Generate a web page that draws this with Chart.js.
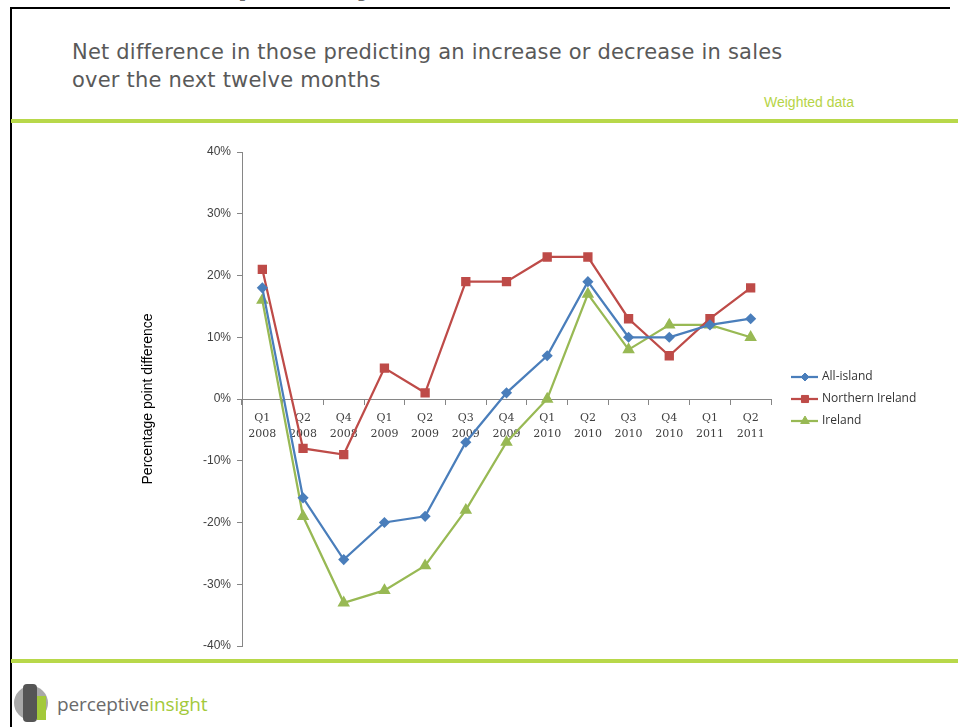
<!DOCTYPE html>
<html>
<head>
<meta charset="utf-8">
<script src="https://cdn.jsdelivr.net/npm/chart.js@4.4.0/dist/chart.umd.min.js"></script>
<style>
    html, body { margin: 0; padding: 0; background: #fff; }
    body { width: 958px; height: 727px; position: relative; overflow: hidden; font-family: "DejaVu Sans", sans-serif; }
    #cabecera { position: absolute; left: 30px; top: -31px; font: bold 28px "DejaVu Sans", sans-serif; color: #6b6b6b; white-space: nowrap; }
    #marco { position: absolute; left: 10px; top: 7px; width: 938px; height: 730px; border-left: 2px solid #000; border-top: 2px solid #000; }
    #titulo { position: absolute; left: 72px; top: 38px; font-size: 21px; letter-spacing: 0.2px; line-height: 28px; color: #595959; }
    #pesado { position: absolute; left: 764px; top: 94px; font: 14px "Liberation Sans", sans-serif; color: #b6d447; }
    .verde { position: absolute; left: 11px; width: 947px; height: 4px; background: #b8d84a; }
    #grafico { position: absolute; left: 120px; top: 130px; width: 838px; height: 530px; }
    #logo { position: absolute; left: 14px; top: 684px; width: 200px; height: 40px; }
    #logo .c1 { position: absolute; left: 0; top: 2px; width: 34px; height: 34px; border-radius: 50%; background: #a8a8a8; }
    #logo .c2 { position: absolute; left: 9px; top: 0; width: 14px; height: 38px; border-radius: 4px; background: #555; }
    #logo .c3 { position: absolute; left: 23px; top: 12px; width: 9px; height: 24px; background: #a3c93a; }
    #logo .txt { position: absolute; left: 43px; top: 7px; font: 19px "Open Sans", sans-serif; color: #6a6a6a; letter-spacing: -0.1px; }
    #logo .txt span { color: #a3c93a; }
</style>
</head>
<body>
<div id="cabecera">3. Outlook – quarterly sales trends</div>
<div id="marco"></div>
<div id="titulo">Net difference in those predicting an increase or decrease in sales<br>over the next twelve months</div>
<div id="pesado">Weighted data</div>
<div class="verde" style="top:119px"></div>
<div class="verde" style="top:659px"></div>
<div id="grafico"><canvas id="lineas"></canvas></div>
<div id="logo"><div class="c1"></div><div class="c2"></div><div class="c3"></div><div class="txt">perceptive<span>insight</span></div></div>
<script>
'use strict';

// Datos
const trimestres = [
    ['Q1', '2008'], ['Q2', '2008'], ['Q4', '2008'], ['Q1', '2009'], ['Q2', '2009'],
    ['Q3', '2009'], ['Q4', '2009'], ['Q1', '2010'], ['Q2', '2010'], ['Q3', '2010'],
    ['Q4', '2010'], ['Q1', '2011'], ['Q2', '2011']
];
const allIsland = [18, -16, -26, -20, -19, -7, 1, 7, 19, 10, 10, 12, 13];
const northernIreland = [21, -8, -9, 5, 1, 19, 19, 23, 23, 13, 7, 13, 18];
const ireland = [16, -19, -33, -31, -27, -18, -7, 0, 17, 8, 12, 12, 10];
const ejeY = [-40, -30, -20, -10, 0, 10, 20, 30, 40];

const gris = '#868686';

// leyenda dibujada a la derecha del grafico
const leyenda = {
    id: 'leyenda',
    afterDraw: (chart) => {
        let ctx = chart.ctx;
        let area = chart.chartArea;
        let x = area.right + 20;
        let yCentro = (area.top + area.bottom) / 2;
        let sets = chart.data.datasets;
        ctx.save();
        ctx.font = '12px "Open Sans", sans-serif';
        ctx.textBaseline = 'middle';
        for (let i = 0; i < sets.length; i++) {
            let y = yCentro + (i - 1) * 22;
            ctx.strokeStyle = sets[i].borderColor;
            ctx.fillStyle = sets[i].borderColor;
            ctx.lineWidth = 2.25;
            ctx.beginPath();
            ctx.moveTo(x, y);
            ctx.lineTo(x + 27, y);
            ctx.stroke();
            ctx.lineWidth = 1;
            Chart.helpers.drawPoint(ctx, {
                pointStyle: sets[i].pointStyle,
                radius: sets[i].pointRadius,
                borderWidth: 1
            }, x + 14, y);
            ctx.fillStyle = '#333333';
            ctx.fillText(sets[i].label, x + 31, y);
        }
        ctx.restore();
    }
};

let serie = (nombre, valores, color, forma, radio) => {
    return {
        label: nombre,
        data: valores,
        borderColor: color,
        backgroundColor: color,
        pointBackgroundColor: color,
        pointBorderColor: color,
        pointStyle: forma,
        pointRadius: radio,
        borderWidth: 2.25,
        tension: 0
    };
};

new Chart(document.getElementById('lineas'), {
    type: 'line',
    data: {
        labels: trimestres,
        datasets: [
            serie('All-island', allIsland, '#4a7ebb', 'rectRot', 4),
            serie('Northern Ireland', northernIreland, '#be4b48', 'rect', 5),
            serie('Ireland', ireland, '#98b954', 'triangle', 5)
        ]
    },
    options: {
        responsive: true,
        maintainAspectRatio: false,
        animation: false,
        layout: { padding: { top: 22, right: 187, bottom: 14, left: 0 } },
        plugins: { legend: { display: false }, tooltip: { enabled: false } },
        scales: {
            x: {
                position: { y: 0 },
                offset: true,
                grid: { offset: true, drawOnChartArea: false, tickLength: 5, color: gris },
                border: { color: gris, width: 1 },
                ticks: {
                    color: '#404040',
                    padding: 6,
                    maxRotation: 0,
                    autoSkip: false,
                    font: { family: '"DejaVu Serif", serif', size: 11, lineHeight: 1.45 }
                }
            },
            y: {
                min: -40,
                max: 40,
                afterBuildTicks: (scale) => { scale.ticks = ejeY.map(v => ({ value: v })); },
                afterFit: (scale) => { scale.width = 122; },
                grid: { drawOnChartArea: false, tickLength: 5, color: gris },
                border: { color: gris, width: 1 },
                ticks: {
                    color: '#404040',
                    padding: 6,
                    font: { family: '"Liberation Sans", sans-serif', size: 12 },
                    callback: (v) => v + '%'
                },
                title: {
                    display: true,
                    text: 'Percentage point difference',
                    color: '#000',
                    padding: { top: 20, bottom: 0 },
                    font: { family: '"Liberation Sans", sans-serif', size: 14 }
                }
            }
        }
    },
    plugins: [leyenda]
});
</script>
</body>
</html>
